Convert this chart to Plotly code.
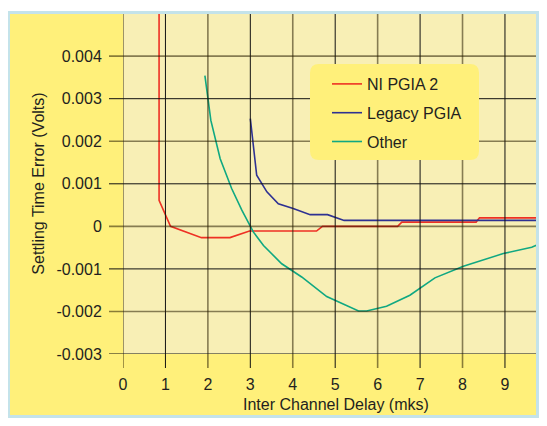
import plotly.graph_objects as go

# ---------------- data ----------------
ni_x = [0.85, 0.85, 1.12, 1.85, 2.52, 2.98, 4.56, 4.70, 6.47, 6.57, 8.32, 8.40, 9.95]
ni_y = [0.0060, 0.00061, 0.0, -0.000265, -0.000265, -0.00011, -0.00011, 0.0, 0.0,
        0.0001, 0.0001, 0.0002, 0.0002]

legacy_x = [3.0, 3.15, 3.39, 3.66, 4.01, 4.41, 4.82, 5.21, 9.95]
legacy_y = [0.00253, 0.0012, 0.00081, 0.00053, 0.00042, 0.000275, 0.000275, 0.00014, 0.00014]

other_x = [1.93, 2.07, 2.29, 2.56, 2.80, 3.07, 3.31, 3.74, 4.21, 4.80, 5.55, 5.74,
           6.21, 6.76, 7.35, 8.02, 8.96, 9.63, 9.97]
other_y = [0.00354, 0.00249, 0.00159, 0.00089, 0.00038, -0.00013, -0.00045, -0.00088,
           -0.00119, -0.00165, -0.00199, -0.00199, -0.00188, -0.00162, -0.00121,
           -0.00094, -0.00064, -0.00049, -0.00035]

x_ticks = [0, 1, 2, 3, 4, 5, 6, 7, 8, 9]
x_ticktext = ["0", "1", "2", "3", "4", "5", "6", "7", "8", "9"]
y_ticks = [-0.003, -0.002, -0.001, 0.0, 0.001, 0.002, 0.003, 0.004]
y_ticktext = ["-0.003", "-0.002", "-0.001", "0", "0.001", "0.002", "0.003", "0.004"]

x_title = "Inter Channel Delay (mks)"
y_title = "Settling Time Error (Volts)"

series_names = ["NI PGIA 2", "Legacy PGIA", "Other"]
series_colors = ["#ee3124", "#2e3192", "#10a882"]

# ---------------- layout geometry ----------------
# The page body has an 8px margin; the visible figure area is 531 x 410 at (8, 8).
OFF = 8
W, H = 547 - 2 * OFF, 426 - 2 * OFF
ML, MR, MT = 123 - OFF, 0, 13 - OFF
PH = 341
MB = H - MT - PH
PW = W - ML - MR
TICK = 14

def px_x(p):  # window pixel -> paper x
    return (p - OFF - ML) / PW

def px_y(p):  # window pixel -> paper y
    return (H - MB - (p - OFF)) / PH

FONT = "Liberation Sans, Arial, sans-serif"
TXT = "#231f20"
YELLOW = "#fff07a"
CREAM = "#f8efb5"
BLUE_FRAME = "#c4e3ea"

fig = go.Figure()
for name, xs, ys, col in zip(series_names, [ni_x, legacy_x, other_x],
                             [ni_y, legacy_y, other_y], series_colors):
    fig.add_trace(go.Scatter(x=xs, y=ys, mode="lines", name=name,
                             legendgroup=name,
                             line=dict(color=col, width=1.6)))

shapes = []
# yellow panel
shapes.append(dict(type="rect", xref="paper", yref="paper", layer="below",
                   x0=px_x(7), x1=px_x(560), y0=px_y(440), y1=px_y(11),
                   fillcolor=YELLOW, line=dict(width=0)))
# plot area background
shapes.append(dict(type="rect", xref="paper", yref="paper", layer="below",
                   x0=0, x1=1, y0=0, y1=1, fillcolor=CREAM, line=dict(width=0)))

# grid lines (drawn above traces, alternating dark / translucent)
for v in x_ticks:
    dark = (v % 2 == 1)
    shapes.append(dict(type="line", xref="x", yref="paper", layer="above",
                       x0=v, x1=v, y0=-TICK / PH, y1=1,
                       line=dict(color="#111111" if dark else "rgba(40,30,0,0.55)",
                                 width=1 if dark else 1.6)))
for v in y_ticks:
    dark = (round(v * 1000) % 2 != 0)
    shapes.append(dict(type="line", xref="paper", yref="y", layer="above",
                       x0=-TICK / PW, x1=1, y0=v, y1=v,
                       line=dict(color="#111111" if dark else "rgba(40,30,0,0.55)",
                                 width=1 if dark else 1.6)))

# legend rounded box
lx0, lx1, ly0, ly1 = px_x(310), px_x(479), px_y(160), px_y(64)
rx, ry = 9 / PW, 9 / PH
path = (f"M {lx0+rx},{ly1} L {lx1-rx},{ly1} Q {lx1},{ly1} {lx1},{ly1-ry} "
        f"L {lx1},{ly0+ry} Q {lx1},{ly0} {lx1-rx},{ly0} "
        f"L {lx0+rx},{ly0} Q {lx0},{ly0} {lx0},{ly0+ry} "
        f"L {lx0},{ly1-ry} Q {lx0},{ly1} {lx0+rx},{ly1} Z")
shapes.append(dict(type="path", xref="paper", yref="paper", layer="above",
                   path=path, fillcolor=YELLOW, line=dict(width=0)))

# outer frame (kept inside the visible area)
shapes.append(dict(type="rect", xref="paper", yref="paper", layer="above",
                   x0=px_x(8.5), x1=px_x(OFF + W - 1.5), y0=px_y(OFF + H - 1.5),
                   y1=px_y(12.5),
                   fillcolor="rgba(0,0,0,0)", line=dict(color=BLUE_FRAME, width=3)))

fig.update_layout(
    width=W, height=H,
    margin=dict(l=ML, r=MR, t=MT, b=MB, pad=0),
    paper_bgcolor="white",
    plot_bgcolor="rgba(0,0,0,0)",
    font=dict(family=FONT, size=16, color=TXT),
    shapes=shapes,
    annotations=[dict(text=x_title, xref="paper", yref="paper",
                      x=px_x(336), y=px_y(404), xanchor="center", yanchor="middle",
                      showarrow=False, font=dict(family=FONT, size=16, color=TXT))],
    showlegend=True,
    legend=dict(x=px_x(327), y=px_y(67), xanchor="left", yanchor="top",
                bgcolor="rgba(0,0,0,0)", borderwidth=0,
                font=dict(family=FONT, size=16, color=TXT),
                tracegroupgap=5),
    xaxis=dict(range=[0, PW / 42.44], tickmode="array", tickvals=x_ticks,
               ticktext=x_ticktext, showgrid=False, zeroline=False,
               showline=False, ticks="outside", ticklen=TICK + 2,
               tickcolor="rgba(0,0,0,0)", automargin=False),
    yaxis=dict(range=[-0.003, -0.003 + PH / 42.55 * 0.001], tickmode="array",
               tickvals=y_ticks, ticktext=y_ticktext, showgrid=False,
               zeroline=False, showline=False, ticks="outside", ticklen=TICK + 3,
               tickcolor="rgba(0,0,0,0)", automargin=False,
               title=dict(text=y_title, standoff=7, font=dict(size=16))),
)

fig.write_html("out.html")
